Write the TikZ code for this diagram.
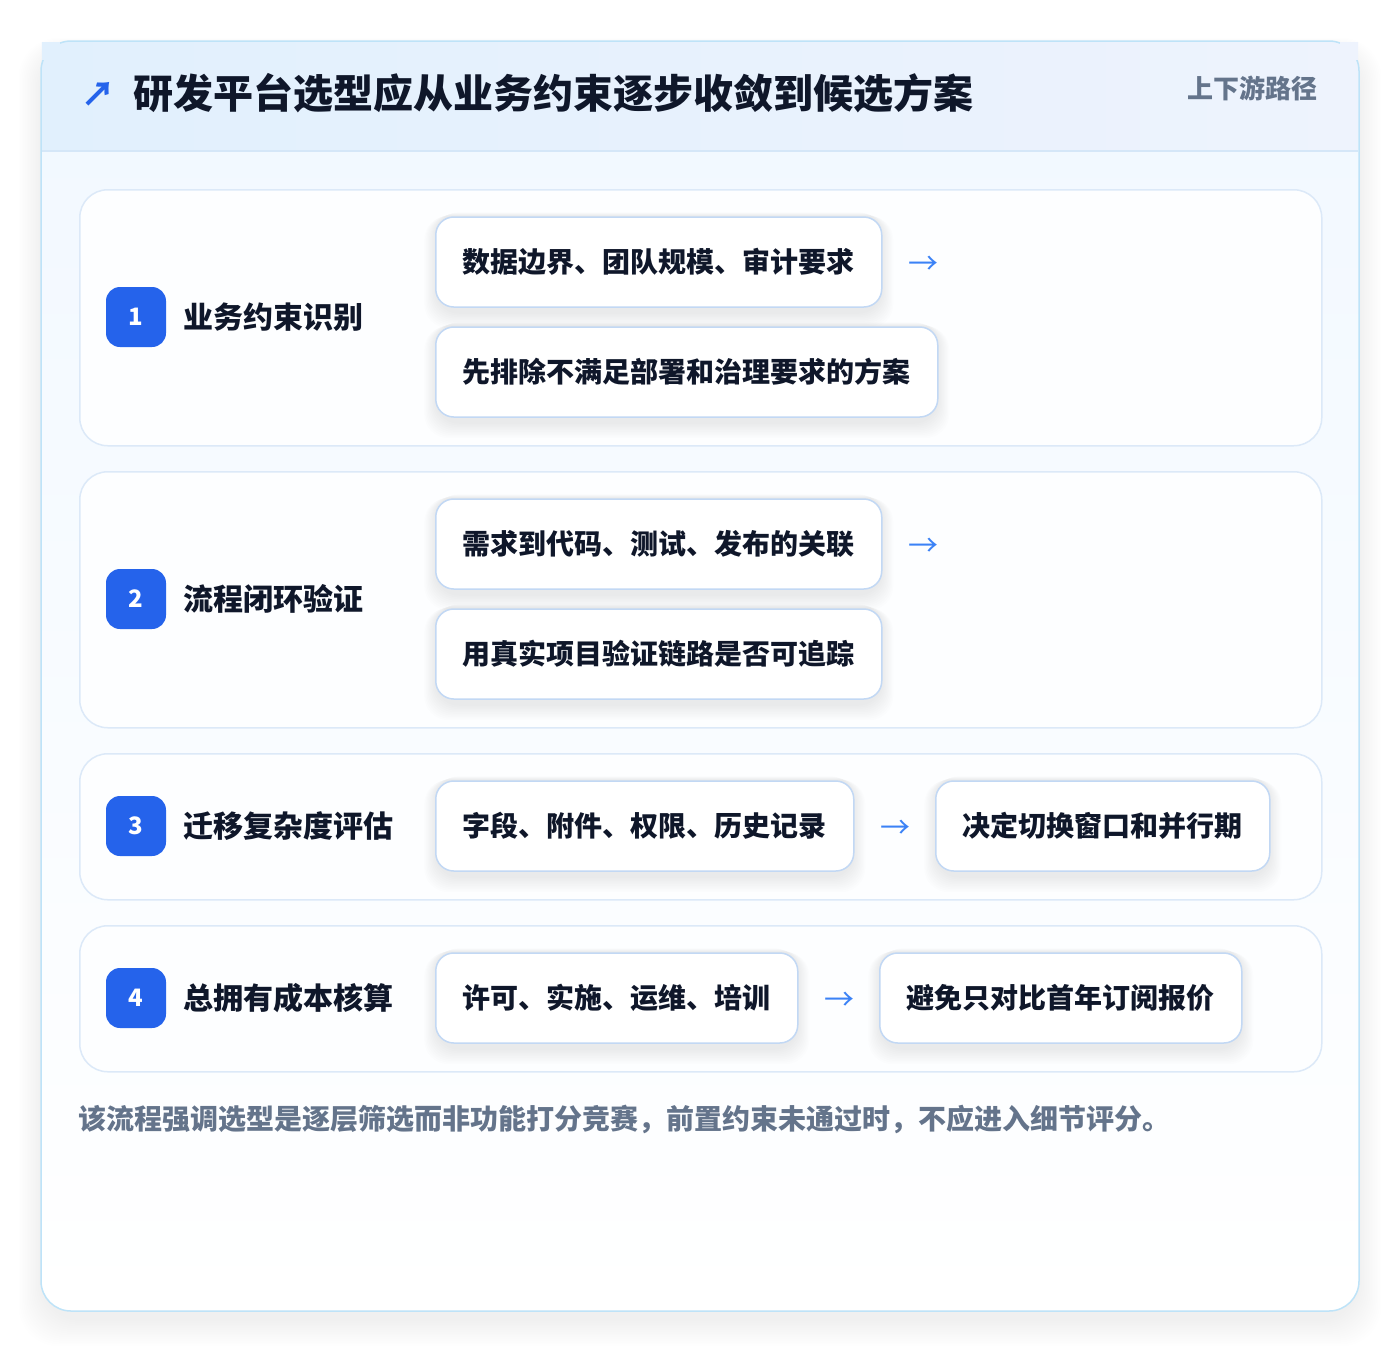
\documentclass[tikz,border=0pt]{standalone}
\usepackage{fontspec}
\setmainfont{Noto Sans CJK SC}
\usetikzlibrary{positioning}
\definecolor{ink}{HTML}{0F172A}
\definecolor{slate}{HTML}{64748B}
\definecolor{brand}{HTML}{2563EB}
\definecolor{arrowblue}{HTML}{3B82F6}
\definecolor{cardline}{HTML}{BEE3F8}
\definecolor{hdrL}{HTML}{E1F0FD}
\definecolor{hdrR}{HTML}{EEF3FD}
\definecolor{hdrline}{HTML}{D5E7F8}
\definecolor{bodytop}{HTML}{F1F8FF}
\definecolor{rowline}{HTML}{DCE9F8}
\definecolor{rowfill}{HTML}{FDFEFF}
\definecolor{itemline}{HTML}{C2D8F4}
\pgfdeclarelayer{bg}
\pgfdeclarelayer{shadowlayer}
\pgfsetlayers{bg,shadowlayer,main}
\tikzset{
  card/.style={draw=cardline, line width=1.5pt, rounded corners=30pt},
  rowbox/.style={draw=rowline, line width=1.5pt, fill=rowfill, rounded corners=28pt, anchor=north west, inner sep=0pt},
  badge/.style={fill=brand, text=white, rounded corners=14pt, minimum width=60pt, minimum height=60pt, inner sep=0pt, font=\fontsize{24}{28}\selectfont\bfseries},
  steplabel/.style={anchor=west, inner sep=0pt, text=ink, font=\fontsize{30}{36}\selectfont\bfseries},
  item/.style={draw=itemline, line width=1.5pt, fill=white, rounded corners=18pt, minimum height=90pt, inner xsep=27pt, inner ysep=0pt, text=ink, font=\fontsize{28}{34}\selectfont\bfseries},
  flowarrow/.style={text=arrowblue, inner sep=0pt, minimum width=30pt, yshift=-3pt, font=\fontsize{30}{34}\selectfont},
  softshade/.style={fill=black, opacity=0.006, rounded corners=24pt},
}
\newcommand{\itemshadow}[1]{%
  \foreach \k in {0,...,9} {
    \fill[softshade] ([xshift=-\k*1.2pt, yshift=-\k*0.4pt+4pt]#1.north west) rectangle ([xshift=\k*1.2pt, yshift=-\k*1.6pt-6pt]#1.south east);
  }%
}
\begin{document}
\begin{tikzpicture}[x=1pt,y=-1pt]
\useasboundingbox (0,0) rectangle (1400,1352);
\begin{pgfonlayer}{bg}
\fill[white] (0,0) rectangle (1400,1352);
% outer card shadow
\foreach \i in {0,2,...,28} {
  \fill[black, opacity=0.005, rounded corners=40pt] (41-\i*0.8,41+8-\i*0.4) rectangle (1359+\i*0.8,1311+10+\i*0.9);
}
% outer card
\shade[top color=bodytop, bottom color=white, rounded corners=30pt] (41,41) rectangle (1359,1311);
% header band
\shade[left color=hdrL, right color=hdrR] (41.8,42) rectangle (1358.2,151);
\draw[card] (41,41) rectangle (1359,1311);
\fill[hdrL] (41.8,42) rectangle (60,60);
\fill[hdrR] (1340,42) rectangle (1358.2,60);
\draw[hdrline, line width=1.5pt] (41.8,151) -- (1358.2,151);
% rows
\node[rowbox, minimum width=1242pt, minimum height=256pt] (r1) at (79,189) {};
\node[rowbox, minimum width=1242pt, minimum height=256pt] (r2) at (79,471) {};
\node[rowbox, minimum width=1242pt, minimum height=146pt] (r3) at (79,753) {};
\node[rowbox, minimum width=1242pt, minimum height=146pt] (r4) at (79,925) {};
\end{pgfonlayer}
% header texts
\node[text=brand, inner sep=0pt, font=\fontsize{34}{40}\selectfont\bfseries] (ticon) at (98,94) {↗};
\node[anchor=west, inner sep=0pt, text=ink, font=\fontsize{40}{48}\selectfont\bfseries] (title) at (133,93) {研发平台选型应从业务约束逐步收敛到候选方案};
\node[anchor=east, inner sep=0pt, text=slate, font=\fontsize{26}{30}\selectfont\bfseries] (subtitle) at (1318,88) {上下游路径};
% badges and labels
\node[badge] (b1) at (136,317) {1};
\node[steplabel] (l1) at (183,317) {业务约束识别};
\node[badge] (b2) at (136,599) {2};
\node[steplabel] (l2) at (183,599) {流程闭环验证};
\node[badge] (b3) at (136,826) {3};
\node[steplabel] (l3) at (183,826) {迁移复杂度评估};
\node[badge] (b4) at (136,998) {4};
\node[steplabel] (l4) at (183,998) {总拥有成本核算};
% row 1
\node[item, anchor=west] (i11) at (435,262) {数据边界、团队规模、审计要求};
\node[flowarrow, right=26pt of i11] (a11) {→};
\node[item, anchor=west] (i12) at (435,372) {先排除不满足部署和治理要求的方案};
% row 2
\node[item, anchor=west] (i21) at (435,544) {需求到代码、测试、发布的关联};
\node[flowarrow, right=26pt of i21] (a21) {→};
\node[item, anchor=west] (i22) at (435,654) {用真实项目验证链路是否可追踪};
% row 3
\node[item, anchor=west] (i31) at (435,826) {字段、附件、权限、历史记录};
\node[flowarrow, right=26pt of i31] (a31) {→};
\node[item, anchor=west] (i32) at (935,826) {决定切换窗口和并行期};
% row 4
\node[item, anchor=west] (i41) at (435,998) {许可、实施、运维、培训};
\node[flowarrow, right=26pt of i41] (a41) {→};
\node[item, anchor=west] (i42) at (879,998) {避免只对比首年订阅报价};
% item shadows
\begin{pgfonlayer}{shadowlayer}
\itemshadow{i11}\itemshadow{i12}\itemshadow{i21}\itemshadow{i22}
\itemshadow{i31}\itemshadow{i32}\itemshadow{i41}\itemshadow{i42}
\end{pgfonlayer}
% footer
\node[anchor=west, inner sep=0pt, text=slate, font=\fontsize{28}{34}\selectfont\bfseries] (foot) at (78,1119) {该流程强调选型是逐层筛选而非功能打分竞赛，前置约束未通过时，不应进入细节评分。};
\end{tikzpicture}
\end{document}
